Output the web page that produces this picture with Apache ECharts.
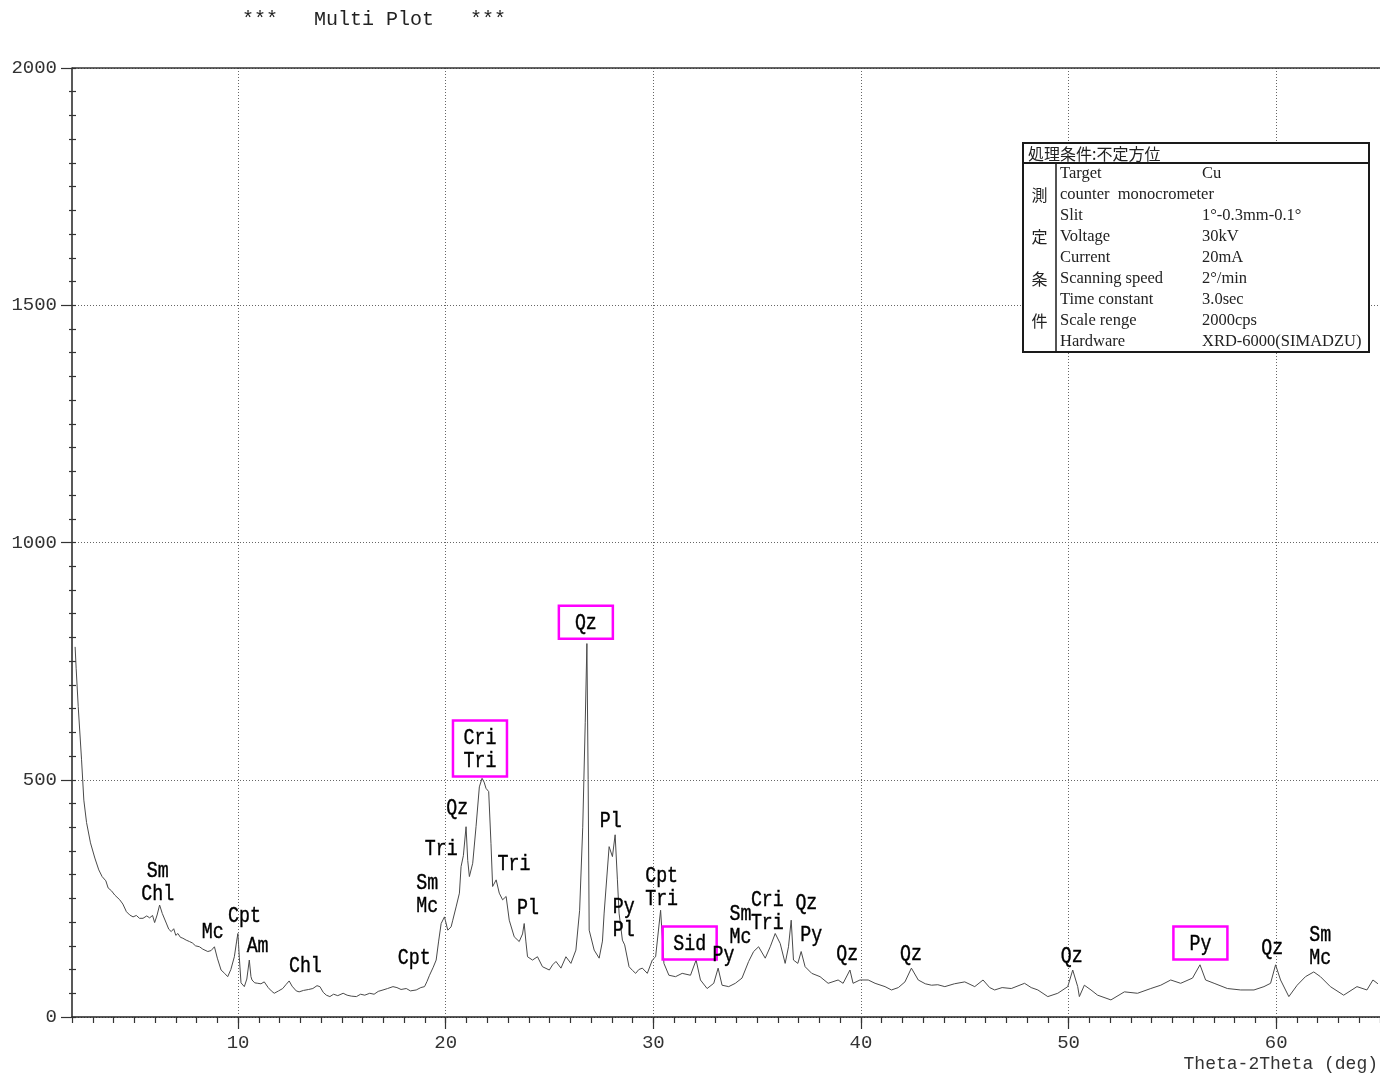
<!DOCTYPE html>
<html>
<head>
<meta charset="utf-8">
<title>Multi Plot</title>
<script src="https://cdn.jsdelivr.net/npm/echarts@6/dist/echarts.min.js"></script>
<style>
  html, body { margin: 0; padding: 0; background: #fff; }
  #chart { width: 1380px; height: 1074px; }
</style>
</head>
<body>
<div id="chart"></div>
<script>
// XRD pattern: 2-theta (deg) and intensity (cps)
const twoTheta = [
  2.15, 2.2, 2.3, 2.46, 2.57, 2.7, 2.89, 3.1, 3.29, 3.45, 3.63, 3.74, 3.9, 4.06, 4.3, 4.45, 4.62, 4.78, 4.94, 5.1,
  5.25, 5.42, 5.6, 5.74, 5.88, 5.98, 6.1, 6.22, 6.35, 6.54, 6.66, 6.78, 6.9, 7.0, 7.1, 7.22, 7.34, 7.5, 7.66, 7.8,
  7.95, 8.14, 8.3, 8.54, 8.7, 8.86, 9.0, 9.18, 9.35, 9.5, 9.65, 9.82, 9.93, 9.99, 10.06, 10.14, 10.3, 10.42, 10.54, 10.62,
  10.67, 10.8, 10.95, 11.1, 11.26, 11.45, 11.6, 11.74, 11.95, 12.15, 12.3, 12.46, 12.6, 12.8, 12.94, 13.15, 13.4, 13.6, 13.8, 13.94,
  14.1, 14.25, 14.42, 14.6, 14.8, 15.06, 15.25, 15.45, 15.7, 15.9, 16.1, 16.34, 16.55, 16.75, 16.98, 17.2, 17.46, 17.65, 17.85, 18.1,
  18.3, 18.58, 18.8, 18.98, 19.1, 19.22, 19.4, 19.54, 19.66, 19.78, 19.94, 20.1, 20.26, 20.34, 20.5, 20.66, 20.74, 20.85, 20.98, 21.06,
  21.14, 21.3, 21.46, 21.62, 21.75, 21.85, 21.94, 22.07, 22.18, 22.26, 22.43, 22.58, 22.74, 22.91, 23.06, 23.3, 23.54, 23.7, 23.78, 23.86,
  23.94, 24.18, 24.42, 24.66, 24.99, 25.15, 25.31, 25.55, 25.79, 26.03, 26.27, 26.45, 26.6, 26.72, 26.8, 26.86, 26.91, 27.15, 27.39, 27.55,
  27.63, 27.87, 28.03, 28.16, 28.27, 28.35, 28.51, 28.62, 28.83, 29.0, 29.15, 29.3, 29.47, 29.71, 29.95, 30.11, 30.35, 30.51, 30.75, 31.07,
  31.39, 31.79, 32.06, 32.27, 32.59, 32.91, 33.12, 33.31, 33.63, 33.95, 34.27, 34.59, 34.83, 35.07, 35.39, 35.63, 35.87, 36.11, 36.35, 36.51,
  36.64, 36.75, 36.96, 37.12, 37.31, 37.63, 38.03, 38.42, 38.9, 39.14, 39.47, 39.62, 39.95, 40.35, 40.68, 41.16, 41.47, 41.8, 42.12, 42.43,
  42.76, 43.1, 43.4, 43.7, 44.04, 44.5, 45.0, 45.48, 45.88, 46.2, 46.44, 46.8, 47.24, 47.88, 48.2, 48.52, 49.0, 49.48, 49.96, 50.2,
  50.44, 50.52, 50.76, 51.08, 51.4, 52.04, 52.69, 53.32, 53.96, 54.44, 54.92, 55.4, 55.97, 56.33, 56.6, 57.01, 57.65, 58.29, 58.93, 59.41,
  59.73, 59.97, 60.21, 60.61, 61.01, 61.41, 61.81, 62.13, 62.61, 63.25, 63.89, 64.37, 64.66, 64.9
];
const intensity = [
  780, 735, 654, 542, 457, 410, 367, 335, 310, 296, 287, 272, 266, 257, 247, 238, 222, 215, 211, 214,
  208, 208, 213, 209, 214, 199, 215, 236, 218, 198, 185, 180, 186, 172, 176, 168, 166, 162, 159, 156,
  150, 148, 143, 138, 140, 148, 124, 99, 92, 85, 100, 127, 160, 176, 125, 72, 64, 80, 120, 85,
  78, 72, 71, 70, 74, 62, 55, 50, 55, 60, 68, 76, 65, 55, 53, 56, 58, 60, 66, 64,
  52, 46, 43, 48, 45, 50, 46, 44, 43, 48, 46, 50, 48, 54, 57, 60, 64, 62, 58, 60,
  55, 57, 62, 64, 75, 88, 105, 120, 160, 197, 211, 183, 190, 204, 232, 261, 317, 340, 401, 330,
  296, 324, 401, 485, 503, 495, 482, 475, 366, 275, 289, 261, 247, 254, 204, 169, 159, 175, 197, 160,
  127, 120, 127, 106, 99, 110, 117, 103, 127, 113, 141, 225, 400, 620, 787, 500, 183, 141, 124, 160,
  219, 359, 338, 384, 289, 219, 162, 152, 106, 98, 92, 100, 103, 92, 120, 127, 225, 113, 88, 85,
  92, 88, 120, 78, 60, 71, 103, 67, 64, 71, 82, 117, 138, 148, 124, 148, 176, 155, 113, 148,
  204, 120, 113, 138, 106, 92, 85, 71, 78, 71, 99, 71, 78, 78, 71, 64, 57, 62, 74, 103,
  78, 70, 67, 68, 64, 70, 74, 64, 78, 62, 57, 62, 60, 71, 62, 57, 43, 50, 64, 99,
  64, 43, 67, 57, 46, 36, 53, 50, 60, 67, 78, 71, 82, 110, 78, 71, 60, 57, 57, 64,
  71, 110, 78, 43, 67, 85, 95, 85, 64, 46, 64, 57, 78, 70
];

// Phase identification tags (text, anchor 2-theta, anchor cps, highlighted)
const tagText = [
  'Sm\nChl', 'Mc', 'Cpt', 'Am', 'Chl', 'Cpt', 'Sm\nMc', 'Tri', 'Qz', 'Cri\nTri',
  'Tri', 'Pl', 'Qz', 'Pl', 'Py\nPl', 'Cpt\nTri', 'Sid', 'Py', 'Sm\nMc', 'Cri\nTri',
  'Qz', 'Py', 'Qz', 'Qz', 'Qz', 'Py', 'Qz', 'Sm\nMc'
];
const tagTheta = [
  6.13, 8.78, 10.31, 10.94, 13.24, 18.48, 19.11, 19.78, 20.55, 21.65,
  23.29, 23.96, 26.75, 27.95, 28.57, 30.4, 31.75, 33.38, 34.2, 35.49,
  37.37, 37.61, 39.34, 42.41, 50.15, 56.35, 59.81, 62.12
];
const tagCounts = [
  283, 179, 213, 150, 108, 124, 257, 354, 440, 564,
  322, 230, 830, 413, 207, 273, 154, 131, 193, 223,
  240, 173, 133, 133, 129, 154, 145, 149
];
const tagBoxed = [
  0, 0, 0, 0, 0, 0, 0, 0, 0, 1,
  0, 0, 1, 0, 0, 0, 1, 0, 0, 0,
  0, 0, 0, 0, 0, 1, 0, 0
];

// Axis ticks
const xMajorTicks = [10, 20, 30, 40, 50, 60];
const yTopValue = 2000;

// Measurement conditions table
const condHeader = '処理条件:不定方位';
const condSide = ['測', '定', '条', '件'];
const condNames = ['Target', 'counter  monocrometer', 'Slit', 'Voltage', 'Current', 'Scanning speed', 'Time constant', 'Scale renge', 'Hardware'];
const condValues = ['Cu', '', '1°-0.3mm-0.1°', '30kV', '20mA', '2°/min', '3.0sec', '2000cps', 'XRD-6000(SIMADZU)'];

const MONO = '"Liberation Mono", "DejaVu Sans Mono", monospace';
const SERIF = '"Liberation Serif", "DejaVu Serif", serif';
const CJK = '"Noto Sans CJK JP", "Noto Sans CJK SC", sans-serif';

const chart = echarts.init(document.getElementById('chart'), null, { renderer: 'canvas' });

const lineData = twoTheta.map((t, i) => [t, intensity[i]]);
const tagData = tagTheta.map((t, i) => [t, tagCounts[i]]);

// Conditions box geometry
const box = { x: 1023, y: 143, w: 346, h: 209, head: 20, side: 33 };
const rowH = 21;
const tableEls = [
  { type: 'rect', z: 100, shape: { x: box.x, y: box.y, width: box.w, height: box.h },
    style: { fill: '#fff', stroke: '#1a1a1a', lineWidth: 2 } },
  { type: 'line', z: 101, shape: { x1: box.x, y1: box.y + box.head, x2: box.x + box.w, y2: box.y + box.head },
    style: { stroke: '#1a1a1a', lineWidth: 2 } },
  { type: 'line', z: 101, shape: { x1: box.x + box.side, y1: box.y + box.head, x2: box.x + box.side, y2: box.y + box.h },
    style: { stroke: '#1a1a1a', lineWidth: 1.5 } },
  { type: 'text', z: 101, x: box.x + 5, y: box.y + box.head / 2 + 1,
    style: { text: condHeader, font: '16px ' + CJK, fill: '#222', verticalAlign: 'middle' } }
];
condSide.forEach((c, i) => {
  tableEls.push({ type: 'text', z: 101, x: box.x + box.side / 2, y: box.y + 52 + i * 42,
    style: { text: c, font: '16px ' + CJK, fill: '#222', align: 'center', verticalAlign: 'middle' } });
});
condNames.forEach((n, i) => {
  const yy = box.y + box.head + 11 + i * rowH;
  tableEls.push({ type: 'text', z: 101, x: box.x + box.side + 4, y: yy,
    style: { text: n, font: '16.5px ' + SERIF, fill: '#222', verticalAlign: 'middle' } });
  if (condValues[i]) {
    tableEls.push({ type: 'text', z: 101, x: 1202, y: yy,
      style: { text: condValues[i], font: '16.5px ' + SERIF, fill: '#222', verticalAlign: 'middle' } });
  }
});

const option = {
  animation: false,
  backgroundColor: '#fff',
  grid: { left: 72, top: 68, width: 1311, height: 949, containLabel: false },
  xAxis: [
    {
      type: 'value', min: 2, max: 65, interval: 1,
      axisLine: { show: true, onZero: false, lineStyle: { color: '#222', width: 1.5 } },
      axisTick: { show: true, length: 6, lineStyle: { color: '#333', width: 1.2 } },
      axisLabel: { show: false },
      splitLine: { show: false }
    },
    {
      type: 'value', min: 2, max: 65, position: 'bottom',
      axisLine: { show: false },
      axisTick: { show: true, length: 12, customValues: xMajorTicks, lineStyle: { color: '#333', width: 1.2 } },
      axisLabel: { show: true, customValues: xMajorTicks, margin: 16, fontFamily: 'Liberation Mono', fontSize: 19, color: '#333' },
      splitLine: { show: false }
    }
  ],
  yAxis: [
    {
      type: 'value', min: 0, max: 2000, interval: 500, position: 'left',
      axisLine: { show: true, onZero: false, lineStyle: { color: '#222', width: 1.5 } },
      axisTick: { show: true, length: 11, lineStyle: { color: '#333', width: 1.2 } },
      minorTick: { show: true, splitNumber: 10, length: 3, lineStyle: { color: '#333', width: 1.2 } },
      axisLabel: { margin: 15, fontFamily: 'Liberation Mono', fontSize: 19, color: '#333',
        formatter: v => String(v) },
      splitLine: { show: true, lineStyle: { color: '#666', type: [1, 2], width: 1 } }
    },
    {
      type: 'value', min: 0, max: 2000, interval: 50, position: 'left',
      axisLine: { show: false },
      axisTick: { show: true, inside: true, length: 4, lineStyle: { color: '#333', width: 1.2 } },
      axisLabel: { show: false },
      splitLine: { show: false }
    }
  ],
  series: [
    {
      type: 'line',
      xAxisIndex: 0, yAxisIndex: 0,
      data: lineData,
      showSymbol: false,
      smooth: false,
      lineStyle: { color: '#4a4a4a', width: 1 },
      z: 3,
      markLine: {
        silent: true,
        symbol: 'none',
        label: { show: false },
        data: xMajorTicks.map(v => ({ xAxis: v, lineStyle: { color: '#666', type: [1, 2], width: 1 } }))
          .concat([{ yAxis: yTopValue, lineStyle: { color: '#333', type: 'solid', width: 1.5 } }])
      }
    },
    {
      type: 'custom',
      xAxisIndex: 0, yAxisIndex: 0,
      data: tagData,
      clip: false,
      z: 5,
      renderItem: function (params, api) {
        const p = api.coord([api.value(0), api.value(1)]);
        const i = params.dataIndex;
        const text = tagText[i];
        const lines = text.split('\n').length;
        const children = [{
          type: 'text', x: p[0], y: p[1], scaleX: 0.83,
          style: { text: text, font: '22px ' + MONO, fill: '#000', align: 'center', verticalAlign: 'middle', lineHeight: 23,
            stroke: '#000', lineWidth: 0.4 }
        }];
        if (tagBoxed[i]) {
          const h = lines * 23 + 10;
          children.push({
            type: 'rect',
            shape: { x: p[0] - 27, y: p[1] - h / 2 - 1, width: 54, height: h },
            style: { fill: 'none', stroke: '#ff00ff', lineWidth: 2.5 }
          });
        }
        return { type: 'group', children: children };
      }
    }
  ],
  graphic: [
    { type: 'text', left: 242, top: 10, z: 100,
      style: { text: '***   Multi Plot   ***', font: '20px ' + MONO, fill: '#222' } },
    { type: 'text', right: 2, top: 1055, z: 100,
      style: { text: 'Theta-2Theta (deg)', font: '18px ' + MONO, fill: '#333' } },
    { type: 'group', children: tableEls }
  ]
};

chart.setOption(option);
</script>
</body>
</html>
